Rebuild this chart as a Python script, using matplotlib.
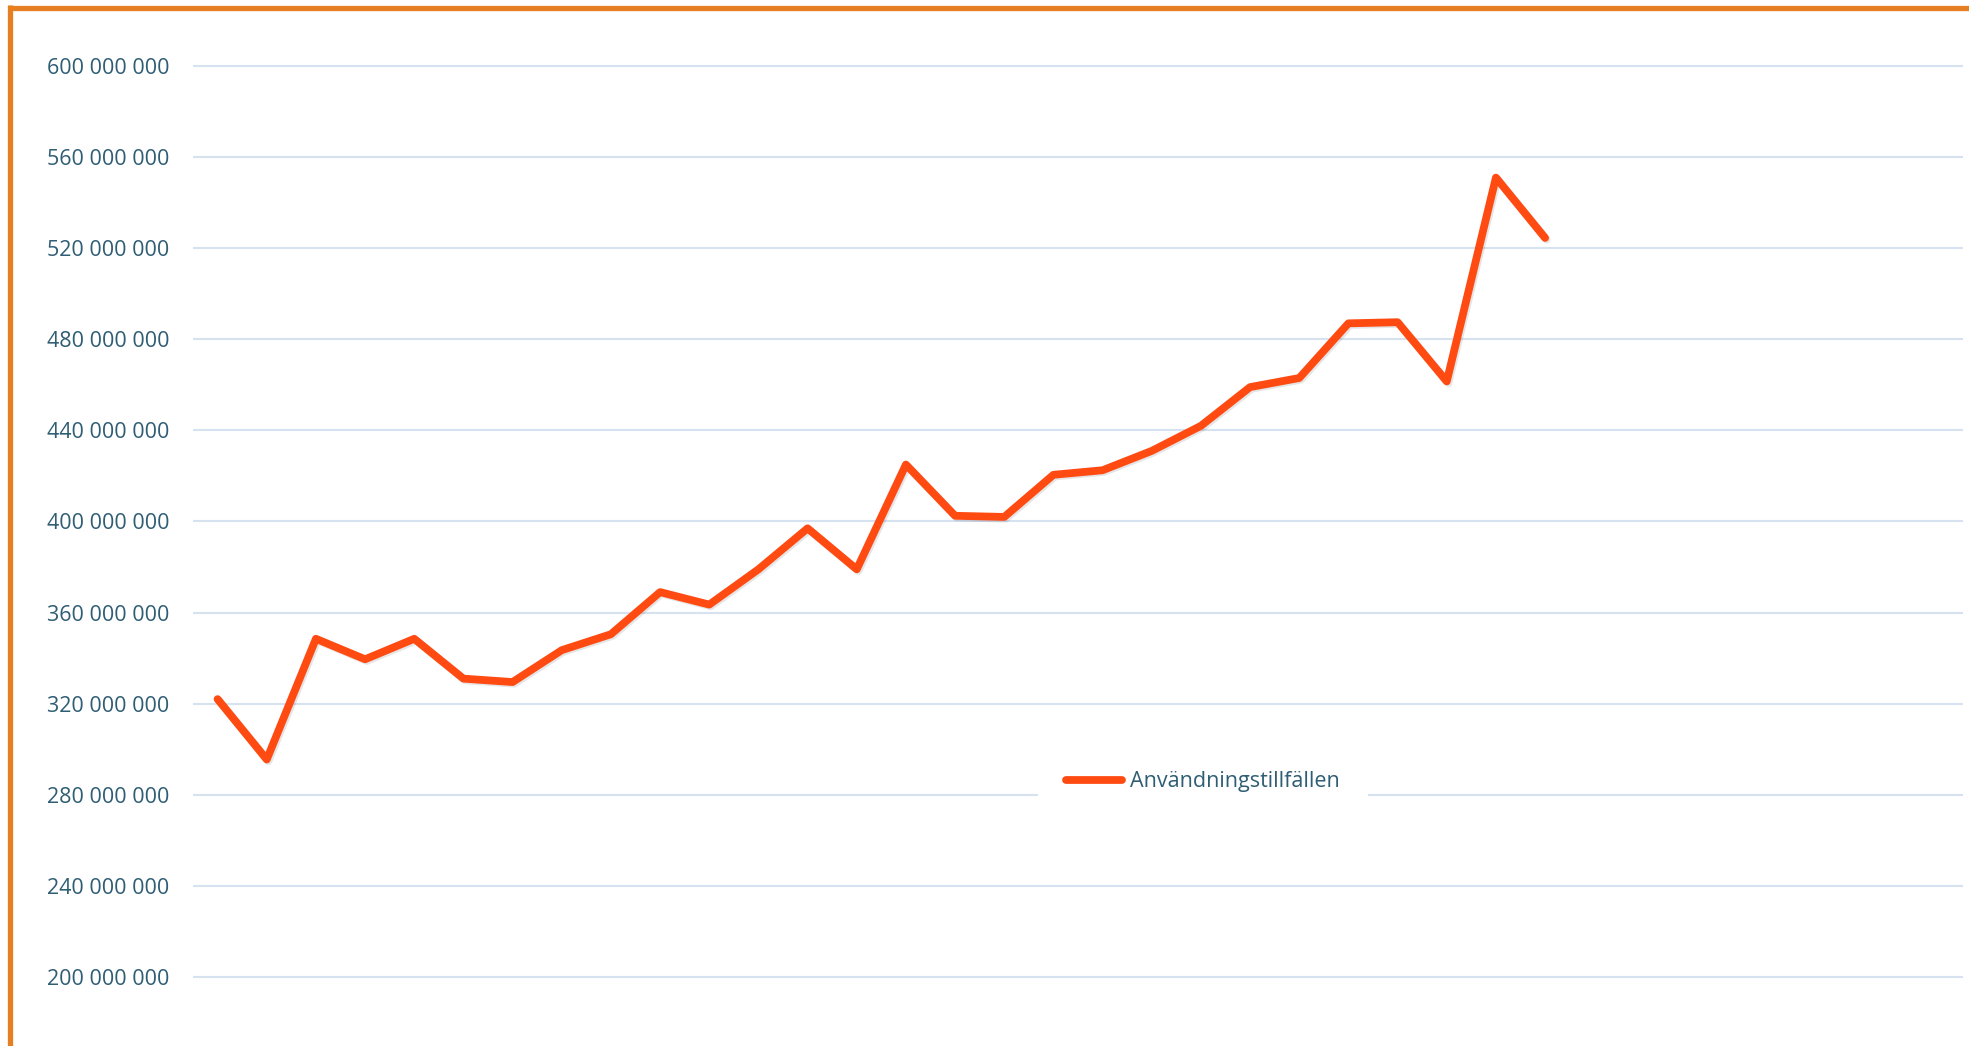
import matplotlib.pyplot as plt
import matplotlib.patheffects as pe
from matplotlib.lines import Line2D
from matplotlib.ticker import FuncFormatter

plt.rcParams['font.family'] = ['Open Sans', 'DejaVu Sans']

# data (36 category slots, 28 with values)
antal_kategorier = 36
varden = [322, 295.5, 348.5, 339.5, 348.5, 331, 329.5, 343.5, 350.5, 369, 363.5, 379,
          397, 379, 425, 402.5, 402, 420.5, 422.5, 431, 442, 459, 463, 487, 487.5,
          461.5, 551, 524.5]
varden = [v * 1e6 for v in varden]
y_ticks = [200e6, 240e6, 280e6, 320e6, 360e6, 400e6, 440e6, 480e6, 520e6, 560e6, 600e6]
serienamn = "Användningstillfällen"

textfarg = '#2f5d74'
linjefarg = '#ff4a12'
gridfarg = '#d6e2f0'
ramfarg = '#e67e22'

W, H = 1969, 1046
fig = plt.figure(figsize=(W / 100, H / 100), dpi=100)
ax = fig.add_axes([193 / W, 0, 1770 / W, 1016 / H])

x = list(range(len(varden)))
ax.plot(x, varden, color=linjefarg, lw=5.6, solid_joinstyle='round', solid_capstyle='round',
        label=serienamn,
        path_effects=[pe.SimpleLineShadow(offset=(1.2, -1.2), alpha=0.1, shadow_color='k'),
                      pe.Normal()], zorder=3)

ax.set_xlim(-0.5, antal_kategorier - 0.5)
ax.set_ylim(169.7e6, 615.8e6)
ax.set_yticks(y_ticks)
ax.yaxis.set_major_formatter(FuncFormatter(lambda v, p: f"{int(v):,}".replace(",", " ")))
ax.tick_params(axis='y', length=0, pad=17, labelsize=15.5, labelcolor=textfarg)
ax.set_xticks([])
ax.grid(axis='y', color=gridfarg, lw=1.5)
ax.set_axisbelow(True)
for s in ax.spines.values():
    s.set_visible(False)

leg = ax.legend(loc='center', bbox_to_anchor=(1203 / W, (H - 782) / H),
                bbox_transform=fig.transFigure, frameon=True, fontsize=15.5,
                handlelength=2.6, handletextpad=0.35, borderpad=1.3)
leg.get_frame().set_edgecolor('none')
leg.get_frame().set_facecolor('white')
leg.get_frame().set_alpha(1)
leg.get_frame().set_boxstyle('square', pad=0)
for t in leg.get_texts():
    t.set_color(textfarg)
for h in leg.get_lines():
    h.set_linewidth(5.6)
    h.set_solid_capstyle('round')
    h.set_path_effects([])

# orange frame, top and left edges only visible
fig.add_artist(Line2D([8 / W, 1], [1 - 7.5 / H, 1 - 7.5 / H], color=ramfarg, lw=3.8,
                      transform=fig.transFigure, solid_capstyle='butt'))
fig.add_artist(Line2D([10 / W, 10 / W], [0, 1 - 5 / H], color=ramfarg, lw=3.8,
                      transform=fig.transFigure, solid_capstyle='butt'))

fig.savefig('out.png', dpi=100, facecolor='white')
